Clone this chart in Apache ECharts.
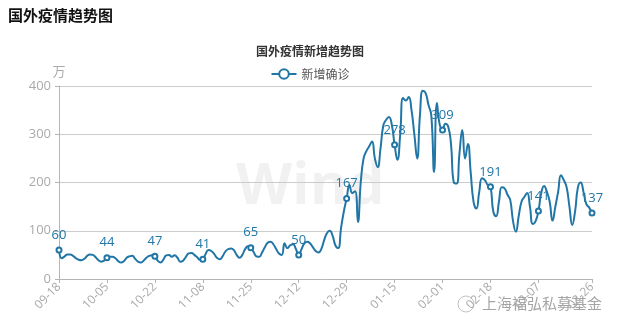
<!DOCTYPE html>
<html>
<head>
<meta charset="utf-8">
<script src="https://cdn.jsdelivr.net/npm/echarts@6/dist/echarts.min.js"></script>
<style>
  html, body { margin: 0; padding: 0; background: #fff; }
  #chart { width: 620px; height: 332px; }
</style>
</head>
<body>
<div id="chart"></div>
<script>
// Daily new confirmed cases outside China (unit: 10k), 2020-09-18 .. 2021-03-26
const startDate = '2020-09-18';
const seriesName = '新增确诊';
const newCases = [
  60, 43, 47, 51, 51, 48, 43, 40, 39, 42,
  48, 51, 50, 45, 39, 36, 38, 44, 46, 46,
  43, 37, 34, 37, 44, 47, 48, 42, 36, 34,
  38, 44, 48, 49, 47, 38, 34, 40, 49, 50,
  46, 49, 44, 36, 38, 46, 53, 54, 50, 45,
  40, 41, 52, 60, 58, 52, 44, 41, 47, 57,
  62, 63, 60, 50, 44, 50, 62, 68, 65, 56,
  47, 46, 55, 66, 75, 77, 72, 62, 53, 50,
  74, 64, 70, 72, 62, 50, 62, 74, 77, 74,
  66, 58, 55, 62, 80, 95, 100, 90, 70, 64,
  105, 140, 167, 195, 178, 182, 118, 200, 250, 265,
  275, 285, 250, 232, 270, 318, 330, 336, 320, 278,
  247, 300, 375, 370, 377, 350, 300, 250, 340, 390,
  385, 361, 340, 222, 365, 320, 309, 322, 316, 280,
  200, 198, 260, 309, 250, 280, 220, 160, 146, 180,
  209, 205, 195, 191, 140, 130, 160, 190, 188, 175,
  164, 120, 98, 130, 160, 170, 178, 150, 114, 120,
  141, 178, 193, 181, 160, 121, 150, 181, 215, 205,
  190, 150, 112, 140, 190, 200, 180, 155, 148, 137
];
// Every 17th day is marked and labelled, plus the last day
const labelStep = 17;
const yTicks = { min: 0, max: 400, interval: 100 };

function buildDates(start, n) {
  const out = [];
  const d = new Date(start + 'T00:00:00Z');
  for (let i = 0; i < n; i++) {
    const m = String(d.getUTCMonth() + 1).padStart(2, '0');
    const day = String(d.getUTCDate()).padStart(2, '0');
    out.push(m + '-' + day);
    d.setUTCDate(d.getUTCDate() + 1);
  }
  return out;
}
const dates = buildDates(startDate, newCases.length);
const lastIdx = newCases.length - 1;
const isMarked = (i) => i === lastIdx || (i % labelStep === 0 && i <= lastIdx - 10);

const lineColor = '#2176a6';
const axisGray = '#aaaaaa';
const fontFamily = "'Open Sans','Noto Sans CJK SC',sans-serif";

const seriesData = newCases.map((v, i) => isMarked(i)
  ? { value: v, label: { show: true } }
  : { value: v, symbol: 'none' });

const chart = echarts.init(document.getElementById('chart'), null, { renderer: 'canvas' });
chart.setOption({
  animation: false,
  textStyle: { fontFamily: fontFamily },
  title: [
    {
      text: '国外疫情趋势图', left: 3, top: 3,
      textStyle: { fontSize: 15, fontWeight: 'bold', color: '#111', fontFamily: "'Noto Sans CJK SC',sans-serif" }
    },
    {
      text: '国外疫情新增趋势图', left: 'center', top: 40,
      textStyle: { fontSize: 12, fontWeight: 'bold', color: '#333', fontFamily: "'Noto Sans CJK SC',sans-serif" }
    }
  ],
  legend: {
    top: 63, left: 'center',
    itemWidth: 25, itemHeight: 12,
    textStyle: { color: '#555', fontSize: 12, fontFamily: "'Noto Sans CJK SC',sans-serif" },
    data: [seriesName]
  },
  graphic: [
    {
      type: 'text', left: 236, top: 158, silent: true,
      style: { text: 'Wind', font: 'bold 58px "Open Sans", sans-serif', fill: 'rgba(0,0,0,0.055)' }
    },
    {
      type: 'circle', shape: { cx: 466, cy: 304, r: 8 }, silent: true,
      style: { fill: 'none', stroke: 'rgba(120,120,120,0.45)', lineWidth: 1 }
    },
    {
      type: 'text', left: 482, top: 296, silent: true,
      style: { text: '上海福弘私募基金', font: '15px "Noto Sans CJK SC", sans-serif', fill: 'rgba(90,90,90,0.55)' }
    }
  ],
  grid: { left: 59, right: 28, top: 86, bottom: 53, containLabel: false },
  xAxis: {
    type: 'category',
    data: dates,
    boundaryGap: false,
    axisLine: { lineStyle: { color: '#b5b5b5' } },
    axisTick: { show: true, interval: (i) => isMarked(i), lineStyle: { color: '#b5b5b5' }, length: 4 },
    axisLabel: {
      interval: (i) => isMarked(i), rotate: 45, color: axisGray, fontSize: 12, margin: 6
    },
    splitLine: { show: false }
  },
  yAxis: {
    type: 'value',
    min: yTicks.min, max: yTicks.max, interval: yTicks.interval,
    name: '万', nameLocation: 'end', nameGap: 8,
    nameTextStyle: { color: axisGray, fontSize: 13, fontFamily: "'Noto Sans CJK SC',sans-serif" },
    axisLine: { show: true, lineStyle: { color: '#b5b5b5' } },
    axisTick: { show: true, length: 4, lineStyle: { color: '#b5b5b5' } },
    axisLabel: { color: axisGray, fontSize: 13, margin: 8 },
    splitLine: { lineStyle: { color: '#cccccc' } }
  },
  series: [{
    name: seriesName,
    type: 'line',
    data: seriesData,
    smooth: 0.5,
    symbol: 'emptyCircle',
    symbolSize: 5,
    showAllSymbol: true,
    lineStyle: { color: lineColor, width: 2 },
    itemStyle: { color: lineColor, borderWidth: 1 },
    label: { show: false, position: 'top', color: lineColor, fontSize: 13, distance: 5 },
    emphasis: { disabled: true }
  }]
});
</script>
</body>
</html>
